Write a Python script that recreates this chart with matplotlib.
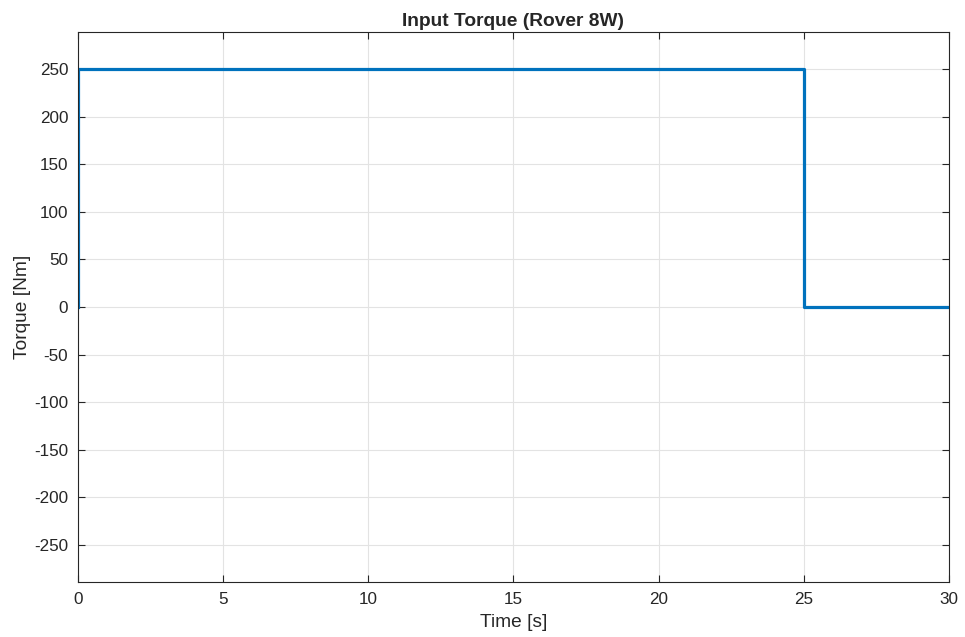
import matplotlib.pyplot as plt
import numpy as np

# step input torque
time_s = [0, 0, 25, 25, 30]
torque_nm = [0, 250, 250, 0, 0]

x_ticks = [0, 5, 10, 15, 20, 25, 30]
y_ticks = [-250, -200, -150, -100, -50, 0, 50, 100, 150, 200, 250]

plt.rcParams['font.family'] = ['Liberation Sans', 'DejaVu Sans']
plt.rcParams['axes.unicode_minus'] = False

fig = plt.figure(figsize=(9.65, 6.37), dpi=100)
ax = fig.add_axes([0.0808, 0.0863, 0.9026, 0.8635])

ax.plot(time_s, torque_nm, color='#0072BD', lw=2.3)

ax.set_xlim(0, 30)
ax.set_ylim(-289, 289)
ax.set_xticks(x_ticks)
ax.set_yticks(y_ticks)
ax.grid(True, color='#e3e3e3', lw=0.8)
ax.set_axisbelow(True)

ax.tick_params(direction='in', top=True, right=True, length=5, width=0.8,
               colors='#262626', labelsize=12.3, pad=7)
for s in ax.spines.values():
    s.set_color('#262626')
    s.set_linewidth(0.8)

ax.set_xlabel('Time [s]', fontsize=13.8, color='#262626', labelpad=5)
ax.set_ylabel('Torque [Nm]', fontsize=13.8, color='#262626', labelpad=2)
ax.set_title('Input Torque (Rover 8W)', fontsize=13.8, fontweight='bold',
             color='#262626', pad=4)

fig.savefig('out.png', dpi=100)
